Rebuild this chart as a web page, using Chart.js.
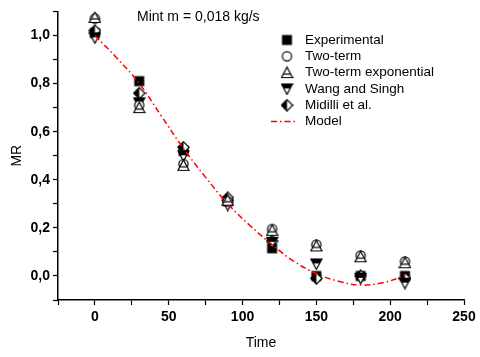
<!DOCTYPE html>
<html>
<head>
<meta charset="utf-8">
<script src="https://cdn.jsdelivr.net/npm/chart.js@4"></script>
<style>
  body { margin: 0; background: #fff; }
  #wrap { width: 480px; height: 357px; position: relative; }
</style>
</head>
<body>
<div id="wrap"><canvas id="mrChart"></canvas></div>
<script>
// data
const times = [0, 30, 60, 90, 120, 150, 180, 210];
const experimental = [1.01, 0.81, 0.52, 0.31, 0.115, 0.0, 0.0, 0.0];
const twoTerm = [1.07, 0.71, 0.465, 0.31, 0.195, 0.13, 0.085, 0.06];
const twoTermExp = [1.075, 0.70, 0.46, 0.315, 0.19, 0.125, 0.08, 0.055];
const wangSingh = [0.99, 0.72, 0.50, 0.295, 0.14, 0.05, -0.01, -0.03];
const midilli = [1.02, 0.76, 0.535, 0.325, 0.145, -0.01, 0.0, -0.01];
const modelTimes = [0, 15, 30, 45, 60, 75, 90, 105, 120, 135, 150, 165, 180, 195, 210];
const model = [1.0, 0.905, 0.80, 0.665, 0.53, 0.41, 0.30, 0.21, 0.13, 0.06, 0.01, -0.022, -0.038, -0.028, 0.0];
const seriesNames = ['Experimental', 'Two-term', 'Two-term exponential', 'Wang and Singh', 'Midilli et al.', 'Model'];

function pts(xs, ys) {
    return xs.map((x, i) => ({ x: x, y: ys[i] }));
}

// marker images
function marker(draw) {
    const c = document.createElement('canvas');
    c.width = 13; c.height = 13;
    const g = c.getContext('2d');
    g.strokeStyle = '#000';
    g.fillStyle = '#000';
    g.lineWidth = 1.2;
    draw(g);
    return c;
}

const squareImg = marker(g => { g.fillRect(1.5, 1.5, 10, 10); });
const circleImg = marker(g => {
    g.fillStyle = '#fff';
    g.beginPath(); g.arc(6.5, 6.5, 4.6, 0, Math.PI * 2); g.fill(); g.stroke();
});
const triUpImg = marker(g => {
    g.fillStyle = '#fff';
    g.beginPath(); g.moveTo(6.5, 1); g.lineTo(12, 11.5); g.lineTo(1, 11.5); g.closePath();
    g.fill(); g.stroke();
    g.beginPath(); g.moveTo(3.2, 8); g.lineTo(9.8, 8); g.stroke();
});
const triDownImg = marker(g => {
    g.fillStyle = '#fff';
    g.beginPath(); g.moveTo(1, 1.5); g.lineTo(12, 1.5); g.lineTo(6.5, 12); g.closePath();
    g.fill(); g.stroke();
    g.fillStyle = '#000';
    g.beginPath(); g.moveTo(1, 1.5); g.lineTo(12, 1.5); g.lineTo(9.6, 6); g.lineTo(3.4, 6); g.closePath();
    g.fill();
});
const diamondImg = marker(g => {
    g.fillStyle = '#fff';
    g.beginPath(); g.moveTo(6.5, 0.8); g.lineTo(12.2, 6.5); g.lineTo(6.5, 12.2); g.lineTo(0.8, 6.5); g.closePath();
    g.fill(); g.stroke();
    g.fillStyle = '#000';
    g.beginPath(); g.moveTo(6.5, 0.8); g.lineTo(6.5, 12.2); g.lineTo(0.8, 6.5); g.closePath();
    g.fill();
});

function markerSet(label, ys, img) {
    return {
        label: label,
        data: pts(times, ys),
        showLine: false,
        pointStyle: img,
        pointRadius: 6,
        borderColor: '#000',
        backgroundColor: '#000'
    };
}

// legend and note inside the plot
const insideLegend = {
    id: 'insideLegend',
    afterDraw(chart) {
        const ctx = chart.ctx;
        ctx.save();
        ctx.fillStyle = '#000';
        ctx.textBaseline = 'middle';
        ctx.font = '14px "Liberation Sans", Arial, sans-serif';
        ctx.fillText('Mint m = 0,018 kg/s', 137, 17);
        ctx.font = '13.5px "Liberation Sans", Arial, sans-serif';
        const imgs = [squareImg, circleImg, triUpImg, triDownImg, diamondImg];
        seriesNames.forEach((name, i) => {
            const y = 40 + i * 16.3;
            if (i < imgs.length) {
                ctx.drawImage(imgs[i], 287 - 6.5, y - 6.5);
            } else {
                ctx.strokeStyle = '#ff0000';
                ctx.lineWidth = 1.5;
                ctx.setLineDash([6, 3, 1.5, 3]);
                ctx.beginPath(); ctx.moveTo(271, y); ctx.lineTo(296, y); ctx.stroke();
                ctx.setLineDash([]);
            }
            ctx.fillText(name, 305, y);
        });
        ctx.restore();
    }
};

document.addEventListener('DOMContentLoaded', function() {
    const ctx = document.getElementById('mrChart').getContext('2d');
    new Chart(ctx, {
        type: 'scatter',
        data: {
            datasets: [
                {
                    label: seriesNames[5],
                    data: pts(modelTimes, model),
                    showLine: true,
                    borderColor: '#ff0000',
                    borderWidth: 1.5,
                    borderDash: [6, 3, 1.5, 3],
                    pointRadius: 0,
                    tension: 0.4,
                    fill: false
                },
                markerSet(seriesNames[2], twoTermExp, triUpImg),
                markerSet(seriesNames[1], twoTerm, circleImg),
                markerSet(seriesNames[3], wangSingh, triDownImg),
                markerSet(seriesNames[4], midilli, diamondImg),
                markerSet(seriesNames[0], experimental, squareImg)
            ]
        },
        options: {
            responsive: true,
            maintainAspectRatio: false,
            animation: false,
            layout: { padding: { top: 2, right: 16, left: 0, bottom: 0 } },
            plugins: {
                legend: { display: false },
                tooltip: { enabled: false }
            },
            scales: {
                x: {
                    type: 'linear',
                    min: -25,
                    max: 250,
                    afterFit: s => { s.height = 57; },
                    border: { color: '#000', width: 1.5 },
                    grid: { drawOnChartArea: false, color: '#000', tickLength: 5, tickWidth: 1.2 },
                    ticks: {
                        stepSize: 25,
                        autoSkip: false,
                        maxRotation: 0,
                        padding: 4,
                        color: '#000',
                        font: { family: '"Liberation Sans", Arial, sans-serif', size: 14, weight: 'bold' },
                        callback: v => (v % 50 === 0 ? String(v) : '')
                    },
                    title: {
                        display: true,
                        text: 'Time',
                        color: '#000',
                        padding: { top: 0, bottom: 5 },
                        font: { family: '"Liberation Sans", Arial, sans-serif', size: 14 }
                    }
                },
                y: {
                    min: -0.1,
                    max: 1.1,
                    afterFit: s => { s.width = 58; },
                    border: { color: '#000', width: 1.5 },
                    grid: { drawOnChartArea: false, color: '#000', tickLength: 5, tickWidth: 1.2 },
                    ticks: {
                        stepSize: 0.1,
                        autoSkip: false,
                        padding: 3,
                        color: '#000',
                        font: { family: '"Liberation Sans", Arial, sans-serif', size: 14, weight: 'bold' },
                        callback: v => {
                            const k = Math.round(v * 10);
                            return k % 2 === 0 ? (k / 10).toFixed(1).replace('.', ',') : '';
                        }
                    },
                    title: {
                        display: true,
                        text: 'MR',
                        color: '#000',
                        padding: { top: 9, bottom: 0 },
                        font: { family: '"Liberation Sans", Arial, sans-serif', size: 14 }
                    }
                }
            }
        },
        plugins: [insideLegend]
    });
});
</script>
</body>
</html>
